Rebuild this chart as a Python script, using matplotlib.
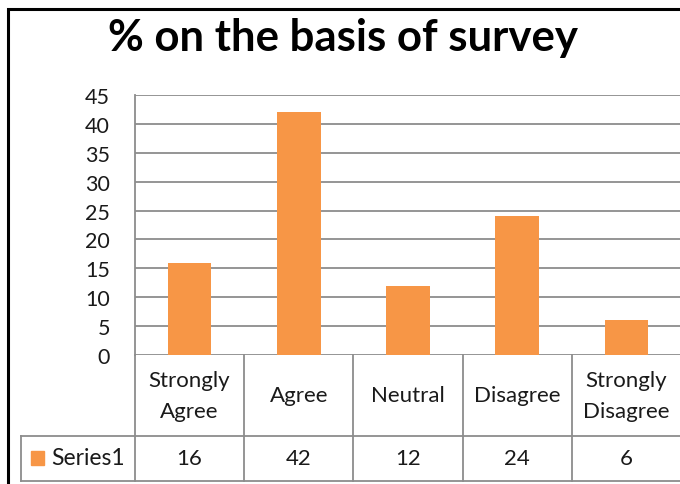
import matplotlib
matplotlib.use('Agg')
import matplotlib.pyplot as plt
from matplotlib.patches import Rectangle
from matplotlib.transforms import blended_transform_factory

plt.rcParams['font.family'] = ['Lato', 'DejaVu Sans']

categories = ['Strongly\nAgree', 'Agree', 'Neutral', 'Disagree', 'Strongly\nDisagree']
values = [16, 42, 12, 24, 6]
series_name = 'Series1'
yticks = [0, 5, 10, 15, 20, 25, 30, 35, 40, 45]

W, H = 680, 485
bar_color = '#F79646'
grid_color = '#8C8C8C'
text_color = '#1a1a1a'

fig = plt.figure(figsize=(W / 100, H / 100), dpi=100)

# plot area in pixels (runs a little past the right edge, like the cropped original)
px_left, px_right, px_top, px_bottom = 135, 681, 96, 356
ax = fig.add_axes([px_left / W, 1 - px_bottom / H,
                   (px_right - px_left) / W, (px_bottom - px_top) / H])

x = range(len(values))
ax.bar(x, values, width=0.4, color=bar_color, zorder=3)
ax.set_xlim(-0.5, len(values) - 0.5)
ax.set_ylim(0, 45)
ax.set_yticks(yticks)
ax.set_yticklabels([str(t) for t in yticks], fontsize=15.5, color=text_color)
ax.tick_params(axis='y', length=0, pad=18)
ax.set_xticks([])
ax.yaxis.grid(True, color=grid_color, linewidth=1.3, zorder=0)
for s in ['top', 'right', 'bottom']:
    ax.spines[s].set_visible(False)
ax.spines['left'].set_color(grid_color)
ax.spines['left'].set_linewidth(1.3)
ax.spines['left'].set_zorder(4)

# data table under the plot
ph = px_bottom - px_top
row1 = -(437 - px_bottom) / ph
row2 = -(482 - px_bottom) / ph
trans = blended_transform_factory(ax.transData, ax.transAxes)
px_per_unit = (px_right - px_left) / len(values)
x_series_left = -0.5 - (px_left - 21) / px_per_unit
lw = 1.3
for i in range(len(values) + 1):
    ax.plot([i - 0.5, i - 0.5], [0, row2], color=grid_color, lw=lw,
            transform=trans, clip_on=False, zorder=5)
ax.plot([x_series_left, len(values) - 0.5], [row1, row1], color=grid_color, lw=lw,
        transform=trans, clip_on=False)
ax.plot([x_series_left, len(values) - 0.5], [row2, row2], color=grid_color, lw=lw,
        transform=trans, clip_on=False)
ax.plot([x_series_left, x_series_left], [row1, row2], color=grid_color, lw=lw,
        transform=trans, clip_on=False)

for i, (c, v) in enumerate(zip(categories, values)):
    ax.text(i, row1 / 2, c, ha='center', va='center', fontsize=16,
            color=text_color, linespacing=1.65, transform=trans)
    ax.text(i, (row1 + row2) / 2, str(v), ha='center', va='center', fontsize=16,
            color=text_color, transform=trans)

# legend key inside the table
fig.patches.append(Rectangle((31 / W, 1 - 466 / H), 13 / W, 14 / H,
                             transform=fig.transFigure, color=bar_color))
fig.text(51 / W, 1 - 459 / H, series_name, ha='left', va='center', fontsize=16.5,
         color=text_color)

# title
fig.text(343 / W, 1 - 38 / H, '% on the basis of survey', ha='center', va='center',
         fontsize=31.5, fontweight='bold', color='black')

# outer chart border (cut off at right and bottom)
fig.patches.append(Rectangle((8 / W, -0.1), 1.2, 1 - 10 / H + 0.1,
                             transform=fig.transFigure, fill=False,
                             edgecolor='black', linewidth=2.2))

fig.savefig('out.png', dpi=100)
